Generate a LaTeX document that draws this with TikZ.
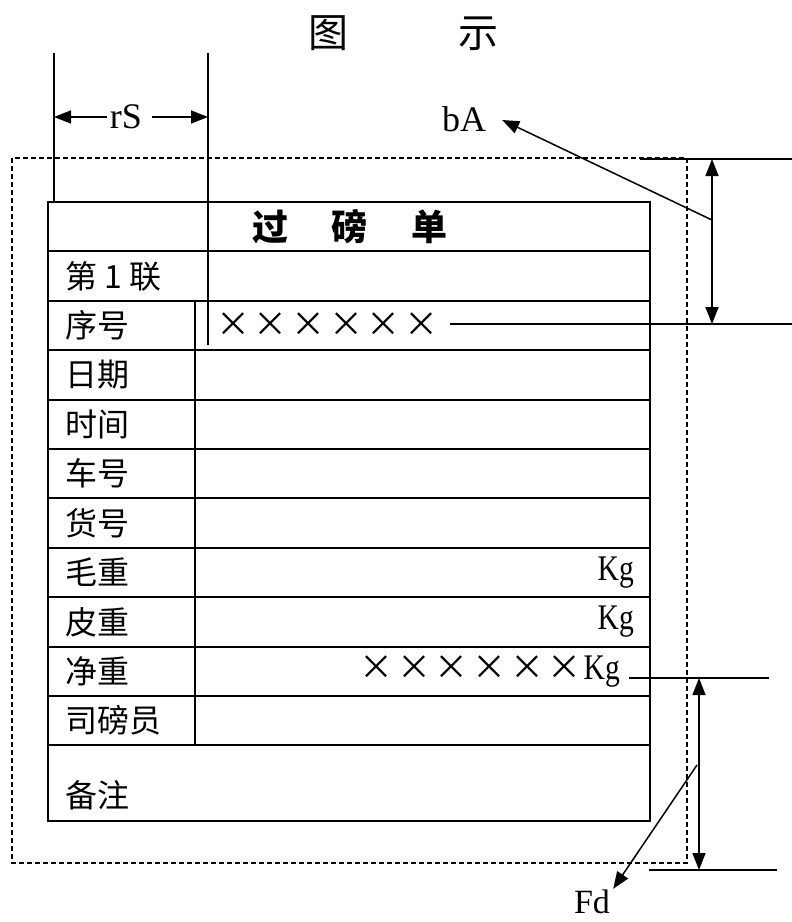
\documentclass[tikz,border=0pt]{standalone}
\usepackage{fontspec}
\setmainfont{Liberation Serif}
\newfontfamily\cjk{Noto Sans CJK SC}
\newfontfamily\kgfont[FakeStretch=0.82]{Liberation Serif}
\usetikzlibrary{arrows.meta}
\newcommand{\Xc}{\makebox[37.7pt]{\fontsize{34}{34}\selectfont ×}}
\begin{document}
\begin{tikzpicture}[x=1pt,y=-1pt,
  tbl/.style={line width=2pt},
  thinln/.style={line width=1.4pt},
  dim/.style={line width=1.5pt, {Triangle[length=17pt,width=13pt]}-{Triangle[length=17pt,width=13pt]}},
  ptr/.style={line width=1.5pt, -{Triangle[length=17pt,width=13pt]}},
  lab/.style={font=\cjk\fontsize{32}{32}\selectfont, anchor=west, inner sep=0pt},
  lat/.style={font=\fontsize{36}{36}\selectfont, inner sep=0pt},
  kg/.style={font=\kgfont\fontsize{36}{36}\selectfont, inner sep=0pt, anchor=east}
]
\useasboundingbox (0,0) rectangle (792,922);

% title
\node[font=\cjk\fontsize{40}{40}\selectfont, inner sep=0pt] (title) at (403,33) {图\hspace{110pt}示};

% dashed outline
\draw[thinln, dash pattern=on 5pt off 3pt] (12,158) rectangle (687,863);

% table
\draw[tbl] (48,202) rectangle (650,821);
\foreach \i in {1,...,11} {
  \draw[tbl] (48,{202+49.4*\i}) -- (650,{202+49.4*\i});
}
\draw[tbl] (195,300.8) -- (195,745.4);
% extension lines (rS)
\coordinate (l1) at (54,53);
\coordinate (r1) at (208,53);
\draw[tbl] (l1) -- (54,202);
\draw[tbl] (r1) -- (208,345);

% heading
\node[font=\cjk\bfseries\fontsize{36}{36}\selectfont, inner sep=0pt] (head) at (350,227)
  {\makebox[80pt]{过}\makebox[80pt]{磅}\makebox[80pt]{单}};

% labels
\node[lab] (c1) at (65,{202+49.4*1.5}) {第 1 联};
\node[lab] (c2) at (65,{202+49.4*2.5}) {序号};
\node[lab] (c3) at (65,{202+49.4*3.5}) {日期};
\node[lab] (c4) at (65,{202+49.4*4.5}) {时间};
\node[lab] (c5) at (65,{202+49.4*5.5}) {车号};
\node[lab] (c6) at (65,{202+49.4*6.5}) {货号};
\node[lab] (c7) at (65,{202+49.4*7.5}) {毛重};
\node[lab] (c8) at (65,{202+49.4*8.5}) {皮重};
\node[lab] (c9) at (65,{202+49.4*9.5}) {净重};
\node[lab] (c10) at (65,{202+49.4*10.5}) {司磅员};
\node[lab] (c11) at (65,795) {备注};

% values
\node[lab] (xh) at (214,325) {\Xc\Xc\Xc\Xc\Xc\Xc};
\node[kg] (kg1) at (634,{202+49.4*7.5}) {Kg};
\node[kg] (kg2) at (634,{202+49.4*8.5}) {Kg};
\node[kg, font=\cjk] (xk) at (620,{202+49.4*9.5})
  {\Xc\Xc\Xc\Xc\Xc\Xc{\kgfont\fontsize{36}{36}\selectfont Kg}};

% rS dimension
\node[lat] (rS) at (126,117) {rS};
\draw[ptr] ([xshift=-3pt]rS.west) -- (l1 |- rS.west);
\draw[ptr] ([xshift=10pt]rS.east) -- (r1 |- rS.east);

% top right dimension
\coordinate (ta) at (640,159);
\coordinate (tb) at (792,159);
\coordinate (tc) at (792,324);
\draw[thinln] (ta) -- (tb);
\draw[thinln] ([xshift=9pt]xh.east |- tc) -- (tc);
\coordinate (t1) at (712,159);
\coordinate (t2) at (712,324);
\draw[dim] (t1) -- (t2);
\node[lat] (bA) at (464,119) {bA};
\coordinate (b0) at (712,220);
\draw[ptr] (b0) -- ([xshift=16pt,yshift=-1pt]bA.east);

% bottom right dimension
\coordinate (na) at (769,678);
\draw[thinln] (xk.east |- na) ++(9,0) -- (na);
\coordinate (nb) at (649,870);
\coordinate (nc) at (777,870);
\draw[thinln] (nb) -- (nc);
\coordinate (d1) at (699,678);
\coordinate (d2) at (699,870);
\draw[dim] (d1) -- (d2);
\node[lat, font=\fontsize{34}{34}\selectfont] (Fd) at (592,902) {Fd};
\coordinate (f0) at (697,765);
\draw[ptr] (f0) -- ([xshift=3pt,yshift=1pt]Fd.north east);
\end{tikzpicture}
\end{document}
